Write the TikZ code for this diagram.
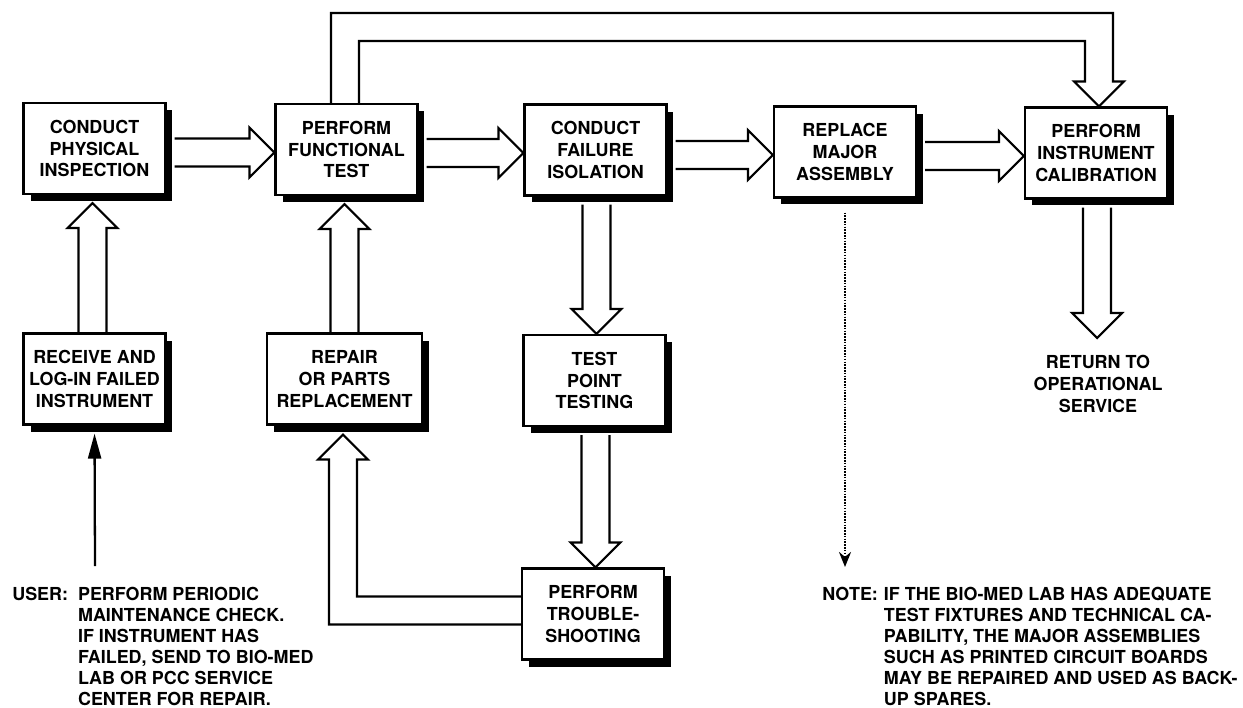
\documentclass[tikz,border=0pt]{standalone}
\usepackage{fontspec}
\setmainfont{TeX Gyre Heros}
\usetikzlibrary{calc,shadows,arrows.meta}
\newcommand\bsw{0.28cm}% shaft half width
\newcommand\bhw{0.5cm}% head half width
\newcommand\bhl{0.5cm}% head length
\newcommand\bsh{0.16cm}% shadow gap
% horizontal block arrow, right
\newcommand\blkR[2]{\draw[blk] let \p1=(#1.east), \p2=($(#2.west)+(0,3)$) in
  ({\x1+\bsh},{\y2+\bsw}) -- ({\x2-\bhl},{\y2+\bsw}) -- ({\x2-\bhl},{\y2+\bhw}) -- (\x2,\y2)
  -- ({\x2-\bhl},{\y2-\bhw}) -- ({\x2-\bhl},{\y2-\bsw}) -- ({\x1+\bsh},{\y2-\bsw});}
% vertical block arrow, down
\newcommand\blkD[2]{\draw[blk] let \p1=($(#1.south)+(1,0)$), \p2=(#2.north) in
  ({\x1-\bsw},{\y1-\bsh}) -- ({\x1-\bsw},{\y2+\bhl}) -- ({\x1-\bhw},{\y2+\bhl}) -- (\x1,\y2)
  -- ({\x1+\bhw},{\y2+\bhl}) -- ({\x1+\bsw},{\y2+\bhl}) -- ({\x1+\bsw},{\y1-\bsh});}
% vertical block arrow, up
\newcommand\blkU[2]{\draw[blk] let \p1=(#1.north), \p2=($(#2.south)+(-2,8)$) in
  ({\x2-\bsw},\y1) -- ({\x2-\bsw},{\y2-\bhl}) -- ({\x2-\bhw},{\y2-\bhl}) -- (\x2,\y2)
  -- ({\x2+\bhw},{\y2-\bhl}) -- ({\x2+\bsw},{\y2-\bhl}) -- ({\x2+\bsw},\y1);}
\begin{document}
\begin{tikzpicture}[x=0.02cm,y=-0.02cm,
  box/.style={draw, line width=1.2pt, fill=white, minimum width=2.84cm, minimum height=1.82cm,
    align=center, inner sep=0pt, font=\fontsize{10.2}{12.4}\selectfont\bfseries,
    drop shadow={shadow xshift=0.14cm, shadow yshift=-0.14cm, fill=black, opacity=1}},
  blk/.style={line width=1.2pt, line join=miter},
  note/.style={inner sep=0pt, font=\fontsize{10.2}{12}\selectfont\bfseries},
]
\useasboundingbox (0,0) rectangle (1243,707);

% boxes
\node[box] (insp) at (94.5,148.5) {CONDUCT\\PHYSICAL\\INSPECTION};
\node[box] (func) at (346.5,149.5) {PERFORM\\FUNCTIONAL\\TEST};
\node[box] (fail) at (595.5,150) {CONDUCT\\FAILURE\\ISOLATION};
\node[box] (repl) at (845,152) {REPLACE\\MAJOR\\ASSEMBLY};
\node[box] (cal) at (1096,153) {PERFORM\\INSTRUMENT\\CALIBRATION};
\node[box] (recv) at (94.5,379) {RECEIVE AND\\LOG-IN FAILED\\INSTRUMENT};
\node[box, minimum width=3.1cm] (repair) at (344.5,379) {REPAIR\\OR PARTS\\REPLACEMENT};
\node[box] (tpt) at (594.5,380.5) {TEST\\POINT\\TESTING};
\node[box] (shoot) at (593,614) {PERFORM\\TROUBLE-\\SHOOTING};

% helper coordinates
\coordinate (looptop) at (700,27);
\coordinate (rettip) at (1098,338);
\coordinate (userfoot) at (95,566);
\coordinate (notetip) at (845,567);

% horizontal block arrows
\blkR{insp}{func}
\blkR{func}{fail}
\blkR{fail}{repl}
\blkR{repl}{cal}

% vertical block arrows
\blkU{recv}{insp}
\blkU{repair}{func}
\blkD{fail}{tpt}
\blkD{tpt}{shoot}
\blkD{cal}{rettip}

% loop from functional test to calibration
\draw[blk] let \p1=($(func.north)+(-1.5,0)$), \p2=($(cal.north)+(3,0)$), \p3=(looptop) in
  ({\x1-\bsw},\y1) -- ({\x1-\bsw},{\y3+\bsw}) -- ({\x2+\bsw},{\y3+\bsw}) -- ({\x2+\bsw},{\y2+\bhl})
  -- ({\x2+\bhw},{\y2+\bhl}) -- (\x2,\y2) -- ({\x2-\bhw},{\y2+\bhl}) -- ({\x2-\bsw},{\y2+\bhl})
  -- ({\x2-\bsw},{\y3-\bsw}) -- ({\x1+\bsw},{\y3-\bsw}) -- ({\x1+\bsw},\y1);

% L-shaped arrow from troubleshooting to repair
\draw[blk] let \p1=($(shoot.west)+(0,-3.5)$), \p2=($(repair.south)+(-1.5,9)$) in
  (\x1,{\y1+\bsw}) -- ({\x2+\bsw},{\y1+\bsw}) -- ({\x2+\bsw},{\y2-\bhl}) -- ({\x2+\bhw},{\y2-\bhl})
  -- (\x2,\y2) -- ({\x2-\bhw},{\y2-\bhl}) -- ({\x2-\bsw},{\y2-\bhl}) -- ({\x2-\bsw},{\y1-\bsw})
  -- (\x1,{\y1-\bsw});

% user arrow
\draw[line width=1.3pt, shorten >=0.16cm, -{Triangle[length=0.5cm,width=0.26cm]}] (userfoot) -- (recv.south);
% dotted note arrow
\draw[dash pattern=on 0.9pt off 0.7pt, line width=1.4pt, shorten <=0.28cm, -{Stealth[length=0.3cm,width=0.24cm]}] (repl.south) -- (notetip);

% texts
\node[note, align=center, font=\fontsize{10.2}{12.6}\selectfont\bfseries] (ret) at (1098,384) {RETURN TO\\OPERATIONAL\\SERVICE};
\node[note, anchor=base west] (user) at (12,600) {\begin{tabular}[t]{@{}l@{\hspace{0.2cm}}l@{}}USER: & PERFORM PERIODIC\\ & MAINTENANCE CHECK.\\ & IF INSTRUMENT HAS\\ & FAILED, SEND TO BIO-MED\\ & LAB OR PCC SERVICE\\ & CENTER FOR REPAIR.\end{tabular}};
\node[note, anchor=base west] (note) at (822,600) {\begin{tabular}[t]{@{}l@{\hspace{0.12cm}}l@{}}NOTE: & IF THE BIO-MED LAB HAS ADEQUATE\\ & TEST FIXTURES AND TECHNICAL CA-\\ & PABILITY, THE MAJOR ASSEMBLIES\\ & SUCH AS PRINTED CIRCUIT BOARDS\\ & MAY BE REPAIRED AND USED AS BACK-\\ & UP SPARES.\end{tabular}};
\end{tikzpicture}
\end{document}
